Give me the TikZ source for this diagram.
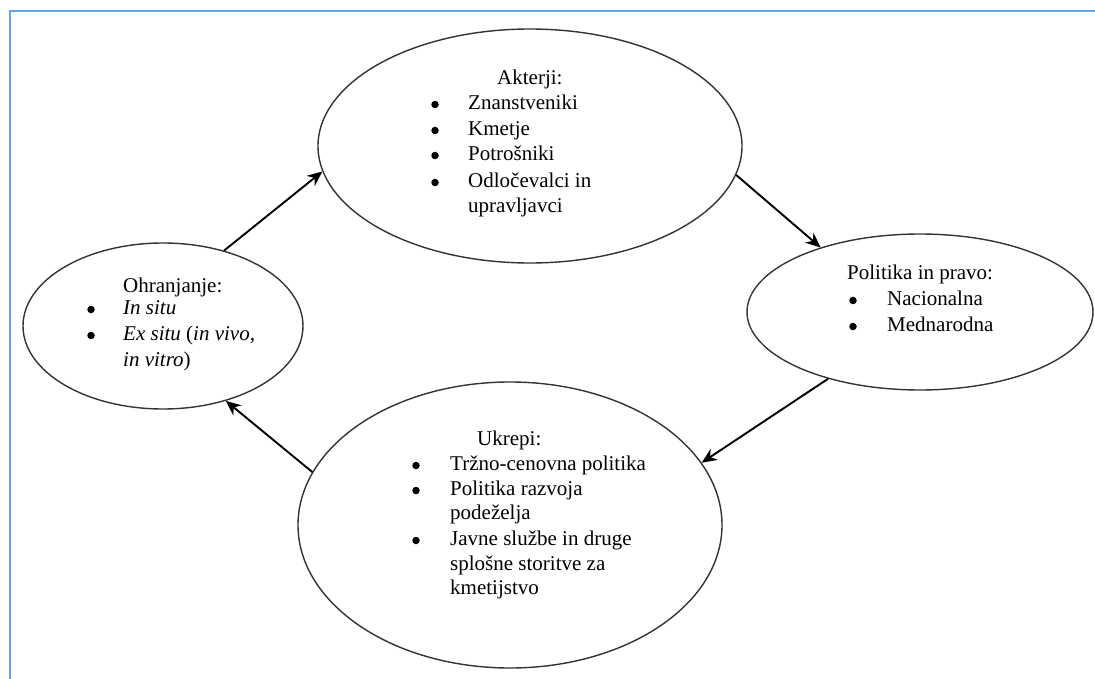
\documentclass[tikz,border=0pt]{standalone}
\usepackage{fontspec}
\setmainfont{Liberation Serif}
\usetikzlibrary{shapes.geometric,arrows.meta}
\definecolor{frameblue}{HTML}{6AA4E0}
\definecolor{ellgray}{HTML}{333333}
\begin{document}
\begin{tikzpicture}[x=1pt,y=-1pt,
  ell/.style={draw=ellgray,line width=1.4pt,ellipse,inner sep=0pt},
  txt/.style={inner sep=0pt,anchor=mid west,font=\fontsize{21}{26}\selectfont},
  bul/.style={circle,fill=black,inner sep=0pt,minimum size=7.5pt,yshift=2.5pt},
  arr/.style={draw=black,line width=1.9pt,-{Stealth[length=15pt,width=13pt]}}]
\useasboundingbox (0,0) rectangle (1095,679);
\draw[frameblue,line width=2pt] (10,679) -- (10,11) -- (1095,11);

% ellipses
\node[ell,minimum width=424pt,minimum height=234pt] (akt) at (530,146) {};
\node[ell,minimum width=346pt,minimum height=156pt] (pol) at (920,312) {};
\node[ell,minimum width=280pt,minimum height=166pt] (ohr) at (163,326) {};
\node[ell,minimum width=424pt,minimum height=286pt] (ukr) at (510,525) {};

% Akterji
\node[txt] (a0) at (497,82) {Akterji:};
\node[bul] (ab1) at (435,107) {};
\node[txt] (a1) at (468,107) {Znanstveniki};
\node[bul] (ab2) at (435,133) {};
\node[txt] (a2) at (468,133) {Kmetje};
\node[bul] (ab3) at (435,158) {};
\node[txt] (a3) at (468,158) {Potrošniki};
\node[bul] (ab4) at (435,185) {};
\node[txt] (a4) at (468,185) {Odločevalci in};
\node[txt] (a5) at (468,210) {upravljavci};

% Politika in pravo
\node[txt] (p0) at (847,277) {Politika in pravo:};
\node[bul] (pb1) at (853,303) {};
\node[txt] (p1) at (887,303) {Nacionalna};
\node[bul] (pb2) at (853,329) {};
\node[txt] (p2) at (887,329) {Mednarodna};

% Ohranjanje
\node[txt] (o0) at (123,290) {Ohranjanje:};
\node[bul] (ob1) at (91,312) {};
\node[txt] (o1) at (123,312) {\textit{In situ}};
\node[bul] (ob2) at (91,338) {};
\node[txt] (o2) at (123,338) {\textit{Ex situ} (\textit{in vivo,}};
\node[txt] (o3) at (123,364) {\textit{in vitro})};

% Ukrepi
\node[txt] (u0) at (477,443) {Ukrepi:};
\node[bul] (ub1) at (416,468) {};
\node[txt] (u1) at (450,468) {Tržno-cenovna politika};
\node[bul] (ub2) at (416,493) {};
\node[txt] (u2) at (450,493) {Politika razvoja};
\node[txt] (u3) at (450,517) {podeželja};
\node[bul] (ub3) at (416,543) {};
\node[txt] (u4) at (450,543) {Javne službe in druge};
\node[txt] (u5) at (450,568) {splošne storitve za};
\node[txt] (u6) at (450,592) {kmetijstvo};

% arrows
\draw[arr] (ohr.51) -- (akt.187.4);
\draw[arr] (akt.-8.6) -- (pol.147.8);
\draw[arr] (pol.216.3) -- (ukr.18.9);
\draw[arr] (ukr.165.3) -- (ohr.-50.6);
\end{tikzpicture}
\end{document}
